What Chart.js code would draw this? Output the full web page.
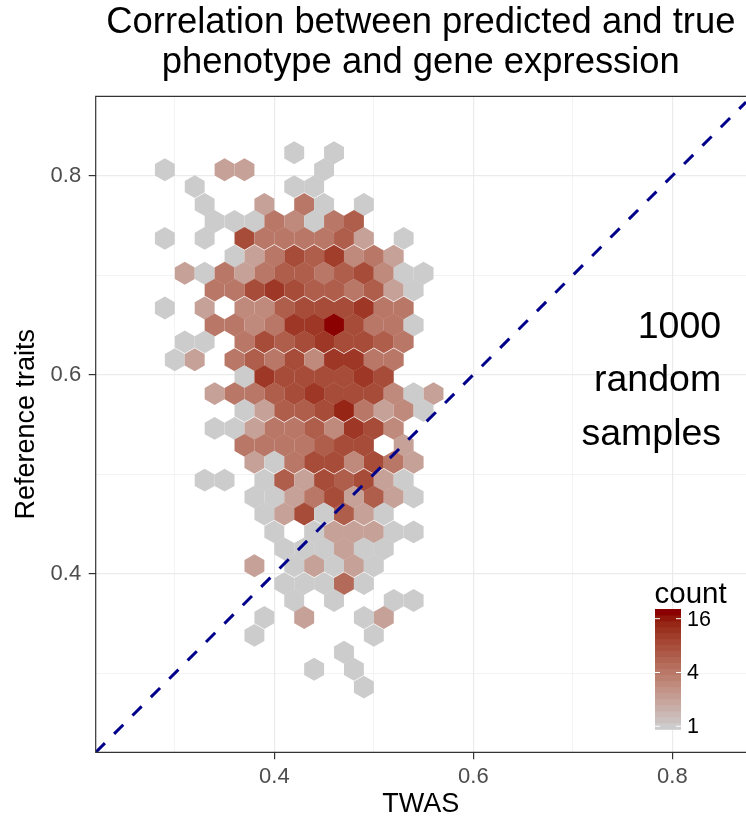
<!DOCTYPE html>
<html lang="en">
<head>
<meta charset="UTF-8">
<title>Predicted vs true phenotype</title>
<script src="https://cdn.jsdelivr.net/npm/chart.js"></script>
<style>
  html, body { margin: 0; padding: 0; background: #ffffff; }
</style>
</head>
<body>
<canvas id="hexplot" width="746" height="824"></canvas>
<script>
// hexbin rows, top to bottom: centre y of each row, then the x centres and counts in that row
const rowY = [0.823, 0.806, 0.789, 0.771, 0.754, 0.737, 0.719, 0.702, 0.685, 0.667, 0.650,
              0.633, 0.615, 0.598, 0.581, 0.564, 0.546, 0.529, 0.512, 0.494, 0.477, 0.460,
              0.442, 0.425, 0.408, 0.390, 0.373, 0.356, 0.338, 0.321, 0.304, 0.286];
const rowX = [
  [0.42, 0.46],
  [0.29, 0.35, 0.37, 0.45],
  [0.32, 0.42, 0.44],
  [0.33, 0.39, 0.43, 0.45, 0.49],
  [0.34, 0.36, 0.38, 0.40, 0.42, 0.44, 0.46, 0.48],
  [0.29, 0.33, 0.37, 0.39, 0.41, 0.43, 0.45, 0.47, 0.49, 0.53],
  [0.36, 0.38, 0.40, 0.42, 0.44, 0.46, 0.48, 0.50, 0.52],
  [0.31, 0.33, 0.35, 0.37, 0.39, 0.41, 0.43, 0.45, 0.47, 0.49, 0.51, 0.53, 0.55],
  [0.34, 0.36, 0.38, 0.40, 0.42, 0.44, 0.46, 0.48, 0.50, 0.52, 0.54],
  [0.29, 0.33, 0.37, 0.39, 0.41, 0.43, 0.45, 0.47, 0.49, 0.51, 0.53],
  [0.34, 0.36, 0.38, 0.40, 0.42, 0.44, 0.46, 0.48, 0.50, 0.52, 0.54],
  [0.31, 0.33, 0.37, 0.39, 0.41, 0.43, 0.45, 0.47, 0.49, 0.51, 0.53],
  [0.30, 0.32, 0.36, 0.38, 0.40, 0.42, 0.44, 0.46, 0.48, 0.50, 0.52],
  [0.37, 0.39, 0.41, 0.43, 0.45, 0.47, 0.49, 0.51],
  [0.34, 0.36, 0.38, 0.40, 0.42, 0.44, 0.46, 0.48, 0.50, 0.52, 0.54, 0.56],
  [0.37, 0.39, 0.41, 0.43, 0.45, 0.47, 0.49, 0.51, 0.53, 0.55],
  [0.34, 0.36, 0.38, 0.40, 0.42, 0.44, 0.46, 0.48, 0.50, 0.52],
  [0.37, 0.39, 0.41, 0.43, 0.45, 0.47, 0.49, 0.53],
  [0.38, 0.40, 0.42, 0.44, 0.46, 0.48, 0.50, 0.52, 0.54],
  [0.33, 0.35, 0.39, 0.41, 0.43, 0.45, 0.47, 0.49, 0.51, 0.53],
  [0.38, 0.40, 0.42, 0.44, 0.46, 0.48, 0.50, 0.52, 0.54],
  [0.39, 0.41, 0.43, 0.45, 0.47, 0.49, 0.51],
  [0.40, 0.44, 0.46, 0.48, 0.50, 0.52, 0.54],
  [0.41, 0.43, 0.45, 0.47, 0.49, 0.51],
  [0.38, 0.42, 0.44, 0.46, 0.48, 0.50],
  [0.41, 0.43, 0.45, 0.47, 0.49],
  [0.42, 0.46, 0.52, 0.54],
  [0.39, 0.43, 0.49, 0.51],
  [0.38, 0.50],
  [0.47],
  [0.44, 0.48],
  [0.49]
];
const rowCount = [
  [1, 1],
  [1, 2, 2, 1],
  [1, 1, 1],
  [1, 2, 4, 1, 1],
  [1, 1, 1, 4, 3, 1, 4, 6],
  [1, 1, 8, 4, 4, 4, 4, 6, 2, 1],
  [1, 2, 4, 8, 6, 10, 3, 4, 2],
  [2, 1, 4, 2, 4, 6, 6, 4, 6, 8, 3, 1, 1],
  [4, 4, 8, 11, 8, 6, 6, 4, 6, 2, 1],
  [1, 2, 3, 3, 6, 8, 8, 8, 11, 4, 4],
  [4, 4, 3, 4, 11, 11, 19, 8, 4, 4, 1],
  [1, 1, 4, 8, 6, 8, 11, 8, 8, 6, 4],
  [1, 2, 4, 6, 4, 8, 3, 11, 11, 4, 4],
  [1, 11, 8, 8, 8, 8, 11, 8],
  [2, 4, 4, 6, 8, 11, 8, 8, 8, 3, 1, 2],
  [1, 2, 6, 6, 8, 14, 4, 2, 3, 1],
  [1, 1, 2, 4, 4, 6, 3, 11, 8, 3],
  [4, 4, 4, 4, 6, 8, 8, 2],
  [2, 1, 4, 8, 8, 3, 8, 4, 2],
  [1, 1, 1, 6, 2, 8, 6, 8, 2, 1],
  [1, 1, 2, 4, 8, 2, 6, 2, 1],
  [1, 2, 8, 1, 6, 2, 1],
  [1, 1, 2, 2, 2, 1, 1],
  [1, 1, 1, 2, 1, 1],
  [2, 1, 2, 1, 2, 1],
  [1, 1, 1, 5, 1],
  [1, 1, 1, 1],
  [1, 2, 1, 2],
  [1, 1],
  [1],
  [1, 1],
  [1]
];
const countRange = [1, 19];
const legendTicks = [1, 4, 16];
const gridValues = [0.3, 0.4, 0.5, 0.6, 0.7, 0.8];
const labelValues = [0.4, 0.6, 0.8];
const refLine = [0.2205, 0.874];   // y = x, from the lower left corner
const titleLines = ['Correlation between predicted and true', 'phenotype and gene expression'];
const noteLines = ['1000', 'random', 'samples'];

const FONT = '"Liberation Sans", Arial, Helvetica, sans-serif';
const LOW = '#CCCCCC', HIGH = '#8B0000';

// colour ramp in CIELAB, like ggplot's gradient
function hexToLab(hex) {
  const c = [1, 3, 5].map(i => {
    const v = parseInt(hex.slice(i, i + 2), 16) / 255;
    return v <= 0.04045 ? v / 12.92 : Math.pow((v + 0.055) / 1.055, 2.4);
  });
  const X = (0.4124 * c[0] + 0.3576 * c[1] + 0.1805 * c[2]) / 0.95047;
  const Y = (0.2126 * c[0] + 0.7152 * c[1] + 0.0722 * c[2]);
  const Z = (0.0193 * c[0] + 0.1192 * c[1] + 0.9505 * c[2]) / 1.08883;
  const f = t => t > 0.008856 ? Math.cbrt(t) : 7.787 * t + 16 / 116;
  return [116 * f(Y) - 16, 500 * (f(X) - f(Y)), 200 * (f(Y) - f(Z))];
}
function labToRgb(lab) {
  const fy = (lab[0] + 16) / 116, fx = fy + lab[1] / 500, fz = fy - lab[2] / 200;
  const inv = t => t * t * t > 0.008856 ? t * t * t : (t - 16 / 116) / 7.787;
  const X = inv(fx) * 0.95047, Y = inv(fy), Z = inv(fz) * 1.08883;
  const lin = [
    3.2406 * X - 1.5372 * Y - 0.4986 * Z,
    -0.9689 * X + 1.8758 * Y + 0.0415 * Z,
    0.0557 * X - 0.2040 * Y + 1.0570 * Z
  ];
  const out = lin.map(v => {
    v = v <= 0.0031308 ? 12.92 * v : 1.055 * Math.pow(v, 1 / 2.4) - 0.055;
    return Math.round(Math.min(1, Math.max(0, v)) * 255);
  });
  return 'rgb(' + out.join(',') + ')';
}
const labLow = hexToLab(LOW), labHigh = hexToLab(HIGH);
function rampAt(t) {
  return labToRgb(labLow.map((v, i) => v + (labHigh[i] - v) * t));
}
function logPos(count) {
  return Math.log(count / countRange[0]) / Math.log(countRange[1] / countRange[0]);
}

const hexPoints = [];
rowY.forEach((y, r) => {
  rowX[r].forEach((x, j) => hexPoints.push({ x: x, y: y, c: rowCount[r][j] }));
});

// hexagon half width and quarter height in data units
const HEX_HALF_W = 0.01;
const HEX_Q = 0.00575;

const hexPlugin = {
  id: 'hexbins',
  beforeDatasetsDraw(chart) {
    const { ctx, chartArea, scales: { x, y } } = chart;
    const meta = chart.getDatasetMeta(0);
    const hw = x.getPixelForValue(0.5 + HEX_HALF_W) - x.getPixelForValue(0.5);
    const hq = y.getPixelForValue(0.5) - y.getPixelForValue(0.5 + HEX_Q);
    ctx.save();
    ctx.beginPath();
    ctx.rect(chartArea.left, chartArea.top, chartArea.width, chartArea.height);
    ctx.clip();
    meta.data.forEach((pt, i) => {
      const cx = pt.x, cy = pt.y;
      ctx.beginPath();
      ctx.moveTo(cx + hw, cy - hq);
      ctx.lineTo(cx, cy - 2 * hq);
      ctx.lineTo(cx - hw, cy - hq);
      ctx.lineTo(cx - hw, cy + hq);
      ctx.lineTo(cx, cy + 2 * hq);
      ctx.lineTo(cx + hw, cy + hq);
      ctx.closePath();
      ctx.fillStyle = rampAt(logPos(hexPoints[i].c));
      ctx.fill();
    });
    ctx.restore();
  }
};

const extrasPlugin = {
  id: 'extras',
  afterDatasetsDraw(chart) {
    const { ctx, scales: { x, y } } = chart;
    ctx.save();
    // annotation
    ctx.fillStyle = '#000000';
    ctx.font = '37.5px ' + FONT;
    ctx.textAlign = 'right';
    ctx.textBaseline = 'middle';
    const nx = x.getPixelForValue(0.849), ny = y.getPixelForValue(0.594);
    noteLines.forEach((t, i) => ctx.fillText(t, nx, ny + (i - 1) * 53.5));

    // colour bar legend
    const barL = 655, barW = 26, barTop = 609, barBot = 729.3, nbin = 20;
    const binH = (barBot - barTop) / nbin;
    for (let k = 0; k < nbin; k++) {
      ctx.fillStyle = rampAt(k / (nbin - 1));
      ctx.fillRect(barL, barBot - (k + 1) * binH, barW, binH + 0.5);
    }
    ctx.font = '29.5px ' + FONT;
    ctx.textAlign = 'left';
    ctx.textBaseline = 'alphabetic';
    ctx.fillStyle = '#000000';
    ctx.fillText('count', barL - 0.5, 603);
    ctx.font = '21.5px ' + FONT;
    ctx.textBaseline = 'middle';
    ctx.strokeStyle = '#ffffff';
    ctx.lineWidth = 1;
    legendTicks.forEach(v => {
      const ty = barBot - (0.5 + logPos(v) * (nbin - 1)) * binH;
      ctx.beginPath();
      ctx.moveTo(barL, ty); ctx.lineTo(barL + 5, ty);
      ctx.moveTo(barL + barW - 5, ty); ctx.lineTo(barL + barW, ty);
      ctx.stroke();
      ctx.fillText(String(v), barL + barW + 6, ty + 1);
    });
    ctx.restore();
  },
  afterDraw(chart) {
    const { ctx, chartArea: a } = chart;
    ctx.save();
    ctx.strokeStyle = '#333333';
    ctx.lineWidth = 1.2;
    ctx.beginPath();
    ctx.moveTo(a.right + 1, a.top);
    ctx.lineTo(a.left, a.top);
    ctx.lineTo(a.left, a.bottom);
    ctx.lineTo(a.right + 1, a.bottom);
    ctx.stroke();
    ctx.restore();
  }
};

function gridOptions() {
  return {
    color: '#EBEBEB',
    lineWidth: c => (labelValues.includes(Math.round(c.tick.value * 10) / 10) ? 1.2 : 0.6),
    tickColor: c => (labelValues.includes(Math.round(c.tick.value * 10) / 10) ? '#333333' : 'rgba(0,0,0,0)'),
    tickWidth: 1.2,
    tickLength: 7,
    drawTicks: true
  };
}
function tickLabel(v) {
  const r = Math.round(v * 10) / 10;
  return labelValues.includes(r) ? r.toFixed(1) : '';
}

new Chart(document.getElementById('hexplot'), {
  type: 'scatter',
  data: {
    datasets: [
      {
        label: 'hexbins',
        data: hexPoints,
        pointRadius: 0,
        pointHoverRadius: 0
      },
      {
        type: 'line',
        label: 'y = x',
        data: refLine.map(v => ({ x: v, y: v })),
        borderColor: '#00008B',
        borderWidth: 3,
        borderDash: [13, 13],
        borderCapStyle: 'butt',
        pointRadius: 0,
        fill: false,
        tension: 0
      }
    ]
  },
  options: {
    responsive: false,
    animation: false,
    events: [],
    layout: { padding: 0 },
    plugins: {
      legend: { display: false },
      tooltip: { enabled: false },
      title: {
        display: true,
        fullSize: false,
        text: titleLines,
        color: '#000000',
        font: { family: FONT, size: 36.4, weight: 'normal', lineHeight: 40 / 36.4 },
        padding: { top: 3, bottom: 13.3 }
      }
    },
    scales: {
      x: {
        type: 'linear',
        min: 0.2205,
        max: 0.874,
        afterBuildTicks: s => { s.ticks = gridValues.map(v => ({ value: v })); },
        afterFit: s => { s.height = 71.7; },
        border: { display: false },
        grid: gridOptions(),
        ticks: {
          callback: tickLabel,
          color: '#4D4D4D',
          font: { family: FONT, size: 22 },
          padding: 4,
          maxRotation: 0
        },
        title: {
          display: true,
          text: 'TWAS',
          color: '#000000',
          font: { family: FONT, size: 27 },
          padding: { top: 0, bottom: 3 }
        }
      },
      y: {
        type: 'linear',
        min: 0.2205,
        max: 0.8798,
        afterBuildTicks: s => { s.ticks = gridValues.map(v => ({ value: v })); },
        afterFit: s => { s.width = 95.7; },
        border: { display: false },
        grid: gridOptions(),
        ticks: {
          callback: tickLabel,
          color: '#4D4D4D',
          font: { family: FONT, size: 22 },
          padding: 7.5
        },
        title: {
          display: true,
          text: 'Reference traits',
          color: '#000000',
          font: { family: FONT, size: 27 },
          padding: { top: 10, bottom: 0 }
        }
      }
    }
  },
  plugins: [hexPlugin, extrasPlugin]
});
</script>
</body>
</html>
